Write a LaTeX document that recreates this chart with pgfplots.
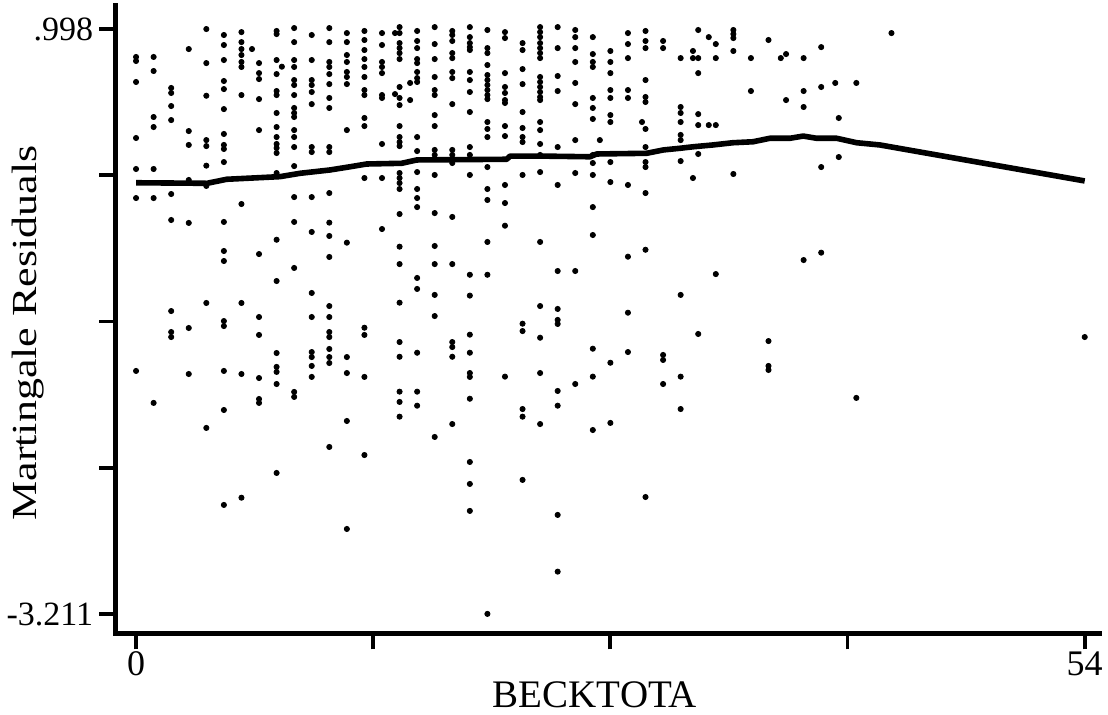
\documentclass[border=0pt]{standalone}
\usepackage{fontspec}
\setmainfont{Liberation Serif}
\usepackage{graphicx}
\usepackage{pgfplots}
\pgfplotsset{compat=1.18}
\begin{document}
\begin{tikzpicture}
\begin{axis}[
  scale only axis,
  width=492.25pt, height=314.25pt,
  xmin=-1.17, xmax=54.87,
  ymin=-3.351, ymax=1.171,
  axis x line*=bottom, axis y line*=left,
  axis line style={line width=2.2pt, line cap=rect},
  tick align=outside,
  major tick length=8pt,
  tick style={line width=1.9pt, black},
  xtick={0,13.5,27,40.5,54},
  xticklabels={0,,,,54},
  ytick={-3.211,-2.15875,-1.1065,-0.05425,0.998},
  yticklabels={-3.211,,,,.998},
  /pgf/number format/assume math mode=true,
  x tick label style={font=\fontsize{18}{21}\selectfont, inner sep=1pt},
  y tick label style={font=\fontsize{17}{20}\selectfont, inner sep=3pt},
  xlabel={BECKTOTA},
  xlabel style={font=\fontsize{19.5}{23}\selectfont, at={(axis description cs:0.487,-0.1185)}, anchor=base},
  ylabel={\scalebox{1}[0.8]{Martingale Residuals}},
  ylabel style={font=\fontsize{22}{26}\selectfont, at={(axis description cs:-0.089,0.478)}, anchor=center},
]
\coordinate (bl) at (rel axis cs:0,0);
\coordinate (tr) at (rel axis cs:1,1);
\addplot[only marks, mark=*, mark size=1.3pt, black] coordinates {
(0,0.797)(0,0.768)(0,0.617)(0,0.214)(0,-0.009)(0,-0.218)(0,-1.462)
(1,0.797)(1,0.696)(1,0.365)(1,0.293)(1,-0.009)(1,-0.218)(1,-1.692)
(2,0.574)(2,0.538)(2,0.444)(2,0.343)(2,-0.189)(2,-0.376)(2,-1.031)(2,-1.182)(2,-1.218)
(3,0.854)(3,0.264)(3,0.164)(3,-0.088)(3,-0.397)(3,-1.153)(3,-1.484)
(4,0.998)(4,0.753)(4,0.518)(4,0.199)(4,0.156)(4,0.015)(4,-0.131)(4,-0.973)(4,-1.872)
(5,0.955)(5,0.883)(5,0.775)(5,0.624)(5,0.566)(5,0.422)(5,0.243)(5,0.164)(5,0.135)(5,0.041)(5,-0.390)(5,-0.599)(5,-0.671)(5,-1.103)(5,-1.139)(5,-1.462)(5,-1.743)(5,-2.426)
(6,0.976)(6,0.904)(6,0.854)(6,0.811)(6,0.761)(6,0.725)(6,0.523)(6,-0.261)(6,-0.973)(6,-1.484)(6,-2.374)
(6.6,0.854)
(7,0.753)(7,0.681)(7,0.638)(7,0.494)(7,0.271)(7,-0.621)(7,-1.074)(7,-1.203)(7,-1.513)(7,-1.664)(7,-1.692)
(8,0.984)(8,0.962)(8,0.775)(8,0.674)(8,0.552)(8,0.523)(8,0.394)(8,0.293)(8,0.221)(8,0.171)(8,0.142)(8,0.106)(8,-0.038)(8,-0.518)(8,-0.815)(8,-1.333)(8,-1.433)(8,-1.469)(8,-1.556)(8,-2.196)
(8.3,0.727)
(9,1.005)(9,0.904)(9,0.775)(9,0.725)(9,0.631)(9,0.595)(9,0.523)(9,0.430)(9,0.394)(9,0.365)(9,0.271)(9,0.221)(9,0.149)(9,0.012)(9,-0.211)(9,-0.390)(9,-0.721)(9,-1.613)(9,-1.649)
(10,0.955)(10,0.775)(10,0.631)(10,0.595)(10,0.545)(10,0.458)(10,0.149)(10,0.113)(10,-0.211)(10,-0.462)(10,-0.901)(10,-1.074)(10,-1.326)(10,-1.362)(10,-1.426)(10,-1.505)
(11,1.005)(11,0.904)(11,0.761)(11,0.725)(11,0.674)(11,0.602)(11,0.502)(11,0.430)(11,0.149)(11,0.113)(11,-0.182)(11,-0.395)(11,-0.491)(11,-0.642)(11,-0.995)(11,-1.074)(11,-1.182)(11,-1.218)(11,-1.304)(11,-1.362)(11,-1.405)(11,-2.009)
(12,0.969)(12,0.904)(12,0.811)(12,0.761)(12,0.689)(12,0.653)(12,0.602)(12,0.271)(12,-0.539)(12,-1.362)(12,-1.477)(12,-1.822)(12,-2.599)
(13,0.984)(13,0.919)(13,0.847)(13,0.782)(13,0.725)(13,0.653)(13,0.559)(13,0.523)(13,0.358)(13,0.300)(13,-0.074)(13,-1.151)(13,-1.203)(13,-1.505)(13,-2.067)
(14,0.969)(14,0.883)(14,0.761)(14,0.725)(14,0.681)(14,0.523)(14,0.502)(14,0.171)(14,-0.074)(14,-0.441)
(14.74,0.969)(14.74,0.530)
(15,1.012)(15,0.969)(15,0.897)(15,0.861)(15,0.825)(15,0.782)(15,0.581)(15,0.502)(15,0.451)(15,0.300)(15,0.221)(15,0.185)(15,0.156)(15,-0.038)(15,-0.074)(15,-0.110)(15,-0.153)(15,-0.333)(15,-0.568)(15,-0.693)(15,-0.971)(15,-1.254)(15,-1.360)(15,-1.611)(15,-1.685)(15,-1.791)
(16,0.984)(16,0.912)(16,0.861)(16,0.782)(16,0.753)(16,0.689)(16,0.645)(16,0.617)(16,0.221)(16,0.120)(16,-0.031)(16,-0.153)(16,-0.218)(16,-0.283)(16,-0.793)(16,-0.872)(16,-1.331)(16,-1.611)(16,-1.712)
(15.6,0.610)(15.6,0.487)
(17,1.012)(17,0.890)(17,0.782)(17,0.653)(17,0.559)(17,0.523)(17,0.379)(17,0.300)(17,0.128)(17,0.092)(17,-0.052)(17,-0.326)(17,-0.563)(17,-0.693)(17,-0.915)(17,-1.067)(17,-1.937)
(18,0.984)(18,0.955)(18,0.912)(18,0.825)(18,0.789)(18,0.689)(18,0.645)(18,0.458)(18,0.128)(18,0.092)(18,0.034)(18,-0.354)(18,-0.693)(18,-1.254)(18,-1.290)(18,-1.360)(18,-1.844)
(19,1.012)(19,0.940)(19,0.897)(19,0.868)(19,0.847)(19,0.689)(19,0.631)(19,0.545)(19,0.401)(19,0.149)(19,0.092)(19,-0.052)(19,-0.770)(19,-0.920)(19,-1.201)(19,-1.331)(19,-1.477)(19,-1.505)(19,-1.662)(19,-2.117)(19,-2.275)(19,-2.469)
(20,0.991)(20,0.861)(20,0.825)(20,0.739)(20,0.667)(20,0.631)(20,0.595)(20,0.559)(20,0.523)(20,0.494)(20,0.329)(20,0.279)(20,0.221)(20,0.005)(20,-0.153)(20,-0.232)(20,-0.534)(20,-0.770)(20,-3.210)
(21,0.976)(21,0.933)(21,0.681)(21,0.581)(21,0.538)(21,0.487)(21,0.466)(21,0.300)(21,0.228)(21,-0.124)(21,-0.254)(21,-0.417)(21,-1.503)
(22,0.897)(22,0.847)(22,0.710)(22,0.602)(22,0.401)(22,0.286)(22,0.221)(22,0.185)(22,-0.052)(22,-1.122)(22,-1.175)(22,-1.736)(22,-1.791)(22,-2.246)
(23,1.012)(23,0.976)(23,0.940)(23,0.897)(23,0.861)(23,0.825)(23,0.789)(23,0.653)(23,0.617)(23,0.581)(23,0.545)(23,0.509)(23,0.487)(23,0.329)(23,0.271)(23,0.171)(23,0.092)(23,-0.031)(23,-0.534)(23,-0.995)(23,-1.223)(23,-1.477)(23,-1.844)
(24,1.012)(24,0.861)(24,0.660)(24,0.552)(24,0.149)(24,-0.124)(24,-0.743)(24,-1.016)(24,-1.095)(24,-1.124)(24,-1.606)(24,-1.712)(24,-2.498)(24,-2.906)
(25,0.991)(25,0.940)(25,0.861)(25,0.761)(25,0.610)(25,0.458)(25,0.199)(25,-0.038)(25,-0.743)(25,-1.556)
(26,0.940)(26,0.818)(26,0.761)(26,0.725)(26,0.502)(26,0.430)(26,0.351)(26,0.092)(26,0.034)(26,-0.052)(26,-0.283)(26,-0.484)(26,-1.302)(26,-1.503)(26,-1.887)
(26.4,0.199)
(27,0.840)(27,0.761)(27,0.681)(27,0.559)(27,0.502)(27,0.379)(27,0.329)(27,0.041)(27,-0.103)(27,-1.403)(27,-1.836)
(28,0.969)(28,0.890)(28,0.789)(28,0.559)(28,0.502)(28,-0.124)(28,-0.640)(28,-1.043)(28,-1.326)
(28.8,0.329)
(29,0.984)(29,0.912)(29,0.861)(29,0.631)(29,0.509)(29,0.473)(29,0.279)(29,0.149)(29,0.041)(29,0.005)(29,-0.182)(29,-0.590)(29,-2.369)
(30,0.912)(30,0.861)(30,-1.347)(30,-1.383)(30,-1.556)
(31,0.789)(31,0.437)(31,0.394)(31,0.329)(31,0.236)(31,0.199)(31,0.048)(31,-0.915)(31,-1.503)(31,-1.736)
(31.7,0.840)(31.7,0.789)(31.7,-0.074)
(32,0.991)(32,0.789)(32,0.681)(32,0.386)(32,0.307)(32,0.099)(32,-1.196)
(32.6,0.940)(32.6,0.307)
(33,0.890)(33,0.789)(33,0.307)(33,-0.765)
(34,0.991)(34,0.962)(34,0.933)(34,0.840)(34,-0.045)
(35,0.789)(35,0.552)
(36,0.919)(36,-1.247)(36,-1.426)(36,-1.455)
(36.7,0.789)
(37,0.818)(37,0.487)
(38,0.789)(38,0.552)(38,0.437)(38,-0.664)
(39,0.868)(39,0.581)(39,0.005)(39,-0.611)
(39.8,0.610)
(40,0.358)(40,0.077)
(41,0.610)(41,-1.656)
(43,0.969)
(54,-1.218)
};
\addplot[black, line width=2.8pt, line join=round, no marks] coordinates {
(0,-0.108)(4.04,-0.112)(5.16,-0.083)(8.2,-0.064)(9.33,-0.040)(11.04,-0.016)(12.18,0.007)(13.13,0.027)(15.12,0.032)(15.98,0.056)(21.1,0.061)(21.29,0.084)(23.0,0.084)(25.84,0.079)(26.22,0.099)(29.07,0.104)(30.01,0.128)(30.96,0.140)(31.72,0.151)(32.84,0.164)(33.98,0.180)(35.12,0.187)(36.08,0.212)(37.22,0.212)(37.98,0.228)(38.74,0.212)(39.88,0.212)(41.02,0.180)(42.34,0.164)(54,-0.095)
};
\end{axis}
\pgfresetboundingbox
\path ([shift={(-57.75pt,-40.75pt)}]bl) rectangle ([shift={(4pt,2.5pt)}]tr);
\end{tikzpicture}
\end{document}
